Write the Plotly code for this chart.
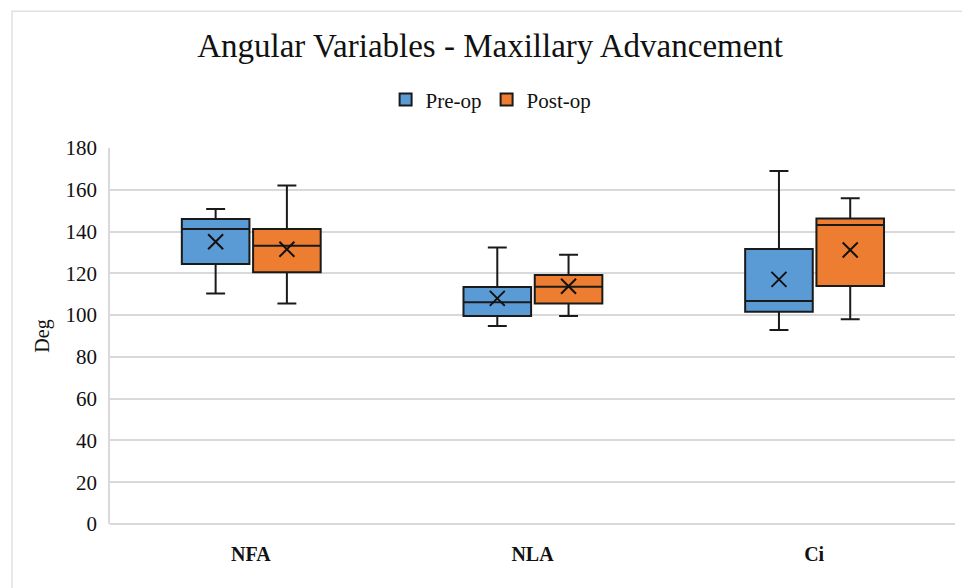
import plotly.graph_objects as go

# categorias y estadisticos (grados)
categories = ['NFA', 'NLA', 'Ci']
series = ['Pre-op', 'Post-op']

pre_low = [110.4, 94.8, 92.9]
pre_q1 = [124.5, 99.6, 101.6]
pre_median = [141.2, 106.1, 106.7]
pre_q3 = [146.0, 113.5, 131.6]
pre_high = [150.8, 132.4, 169.0]
pre_mean = [135.1, 108.0, 117.1]

post_low = [105.6, 99.6, 98.0]
post_q1 = [120.5, 105.6, 113.9]
post_median = [133.2, 113.6, 143.1]
post_q3 = [141.2, 119.2, 146.2]
post_high = [162.0, 128.9, 156.0]
post_mean = [131.5, 113.8, 131.2]

COLORS = {'Pre-op': '#5b9bd5', 'Post-op': '#ed7d31'}
FONT = 'Liberation Serif, Times New Roman, serif'

stats = {
    'Pre-op': (pre_low, pre_q1, pre_median, pre_q3, pre_high, pre_mean),
    'Post-op': (post_low, post_q1, post_median, post_q3, post_high, post_mean),
}

shift = {'Pre-op': -0.125, 'Post-op': 0.128}
box_w = 0.24

fig = go.Figure()
for name in series:
    low, q1, med, q3, high, mean = stats[name]
    xpos = [i + shift[name] for i in range(len(categories))]
    fig.add_trace(go.Box(
        x=xpos, q1=q1, median=med, q3=q3,
        lowerfence=low, upperfence=high,
        name=name, width=box_w, whiskerwidth=0.28,
        fillcolor=COLORS[name],
        line=dict(color='#1a1a1a', width=2),
        boxpoints=False, legendgroup=name
    ))
    # la media como una X
    fig.add_trace(go.Scatter(
        x=xpos, y=mean, mode='markers', showlegend=False,
        legendgroup=name,
        marker=dict(symbol='x-thin', size=15, line=dict(color='#111', width=2))
    ))

fig.update_layout(
    width=970, height=588,
    paper_bgcolor='white', plot_bgcolor='white',
    font=dict(family=FONT, color='#111'),
    title=dict(text='Angular Variables - Maxillary Advancement',
               x=0.497, xanchor='center', yref='container', y=0.937, yanchor='middle',
               font=dict(size=33, family=FONT, color='#111')),
    legend=dict(orientation='h', x=0.451, xanchor='center', y=1.128, yanchor='middle',
                font=dict(size=21, family=FONT), traceorder='normal'),
    boxmode='overlay',
    margin=dict(l=102, r=23, t=140, b=72),
    showlegend=True,
    shapes=[dict(type='rect', xref='paper', yref='paper',
                 x0=-0.116, x1=1.015, y0=-0.3, y1=1.364,
                 line=dict(color='#e0e0e0', width=1.5), layer='below')],
)

fig.update_xaxes(
    range=[-0.5, 2.5], tickvals=list(range(len(categories))),
    ticktext=['<b>%s</b>' % c for c in categories],
    tickfont=dict(size=20, family=FONT, color='#111'),
    showgrid=False, zeroline=False, showline=False, ticks='',
    automargin=False, ticklabelstandoff=16
)
fig.update_yaxes(
    range=[0, 180], dtick=20,
    title=dict(text='Deg', font=dict(size=20, family=FONT), standoff=11),
    tickfont=dict(size=21, family=FONT, color='#111'),
    gridcolor='#d9d9d9', gridwidth=1.5,
    showline=True, linecolor='#d9d9d9', linewidth=1.5,
    zeroline=True, zerolinecolor='#d9d9d9', zerolinewidth=1.5,
    ticks='', ticklabelstandoff=7, automargin=False
)

fig.write_html('out.html')
